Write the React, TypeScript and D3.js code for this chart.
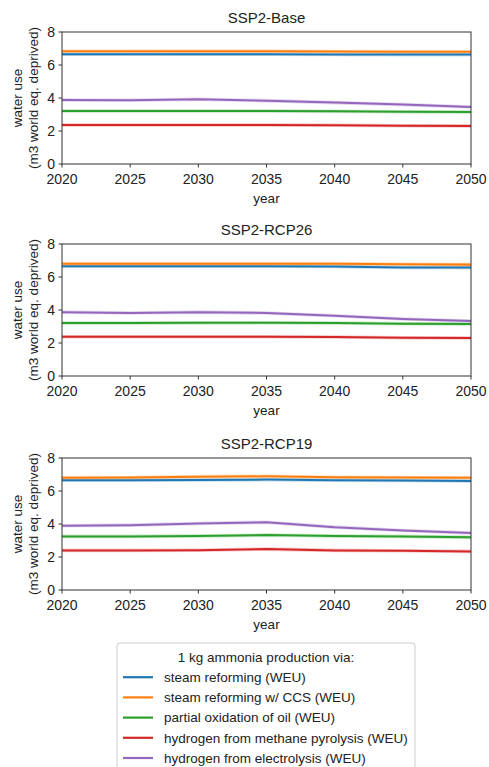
import React from "react";
import * as d3 from "d3";

const years = [2020, 2025, 2030, 2035, 2040, 2045, 2050];

const seriesNames = [
  "steam reforming (WEU)",
  "steam reforming w/ CCS (WEU)",
  "partial oxidation of oil (WEU)",
  "hydrogen from methane pyrolysis (WEU)",
  "hydrogen from electrolysis (WEU)",
];
const seriesColors = ["#1f77b4", "#ff7f0e", "#2ca02c", "#d62728", "#9467bd"];

const scenarioTitles = ["SSP2-Base", "SSP2-RCP26", "SSP2-RCP19"];

// water use per 1 kg ammonia, one row per series, one column per year
const baseValues = [
  [6.65, 6.65, 6.65, 6.65, 6.64, 6.63, 6.63],
  [6.83, 6.83, 6.84, 6.84, 6.82, 6.81, 6.8],
  [3.21, 3.21, 3.21, 3.21, 3.2, 3.17, 3.15],
  [2.36, 2.36, 2.36, 2.36, 2.35, 2.32, 2.31],
  [3.88, 3.86, 3.92, 3.84, 3.72, 3.6, 3.45],
];
const rcp26Values = [
  [6.65, 6.65, 6.65, 6.65, 6.64, 6.58, 6.57],
  [6.81, 6.81, 6.81, 6.81, 6.81, 6.77, 6.75],
  [3.21, 3.21, 3.22, 3.23, 3.21, 3.17, 3.15],
  [2.38, 2.38, 2.38, 2.38, 2.36, 2.32, 2.3],
  [3.87, 3.82, 3.87, 3.82, 3.65, 3.45, 3.33],
];
const rcp19Values = [
  [6.65, 6.65, 6.67, 6.69, 6.65, 6.64, 6.61],
  [6.81, 6.82, 6.87, 6.89, 6.83, 6.82, 6.81],
  [3.25, 3.25, 3.27, 3.33, 3.27, 3.25, 3.19],
  [2.4, 2.4, 2.41, 2.48, 2.4, 2.38, 2.34],
  [3.89, 3.93, 4.03, 4.11, 3.81, 3.61, 3.45],
];
const scenarioValues = [baseValues, rcp26Values, rcp19Values];

const yTicks = [0, 2, 4, 6, 8];
const xTicks = [2020, 2025, 2030, 2035, 2040, 2045, 2050];

const legendTitle = "1 kg ammonia production via:";

const FONT = "'Liberation Sans', Arial, sans-serif";
const TEXT = "#222";
const AXIS = "#333";

const plotLeft = 62;
const plotRight = 471;
const panelTops = [32, 244, 458];
const plotHeight = 132;

// series draw order: blue, orange, green, red, purple (later on top)
const drawOrder = [0, 1, 2, 3, 4];

function Panel({ index }: { index: number }) {
  const top = panelTops[index];
  const bottom = top + plotHeight;
  const x = d3.scaleLinear().domain([2020, 2050]).range([plotLeft, plotRight]);
  const y = d3.scaleLinear().domain([0, 8]).range([bottom, top]);
  const line = d3
    .line<number>()
    .x((_, i) => x(years[i]))
    .y((v) => y(v))
    .curve(d3.curveLinear);
  const values = scenarioValues[index];
  const midY = (top + bottom) / 2;
  return (
    <g>
      <text
        x={(plotLeft + plotRight) / 2}
        y={top - 9}
        textAnchor="middle"
        fontSize={15}
        fill={TEXT}
        fontFamily={FONT}
      >
        {scenarioTitles[index]}
      </text>
      <clipPath id={`clip-${index}`}>
        <rect x={plotLeft} y={top} width={plotRight - plotLeft} height={plotHeight} />
      </clipPath>
      <g clipPath={`url(#clip-${index})`}>
        {drawOrder.map((s) => (
          <g key={s}>
            <path
              d={line(values[s]) || ""}
              fill="none"
              stroke={seriesColors[s]}
              strokeOpacity={0.25}
              strokeWidth={3.6}
            />
            <path
              d={line(values[s]) || ""}
              fill="none"
              stroke={seriesColors[s]}
              strokeWidth={2}
            />
          </g>
        ))}
      </g>
      <rect
        x={plotLeft}
        y={top}
        width={plotRight - plotLeft}
        height={plotHeight}
        fill="none"
        stroke={AXIS}
        strokeWidth={1}
      />
      {yTicks.map((t) => (
        <g key={t}>
          <line x1={plotLeft - 3.5} x2={plotLeft} y1={y(t)} y2={y(t)} stroke={AXIS} />
          <text
            x={plotLeft - 7}
            y={y(t)}
            dy="0.35em"
            textAnchor="end"
            fontSize={14}
            fill={TEXT}
            fontFamily={FONT}
          >
            {t}
          </text>
        </g>
      ))}
      {xTicks.map((t) => (
        <g key={t}>
          <line x1={x(t)} x2={x(t)} y1={bottom} y2={bottom + 3.5} stroke={AXIS} />
          <text
            x={x(t)}
            y={bottom + 19.5}
            textAnchor="middle"
            fontSize={14}
            fill={TEXT}
            fontFamily={FONT}
          >
            {t}
          </text>
        </g>
      ))}
      <text
        x={(plotLeft + plotRight) / 2}
        y={bottom + 39}
        textAnchor="middle"
        fontSize={13.5}
        fill={TEXT}
        fontFamily={FONT}
      >
        year
      </text>
      <text
        transform={`translate(22, ${midY}) rotate(-90)`}
        textAnchor="middle"
        fontSize={13.5}
        fill={TEXT}
        fontFamily={FONT}
      >
        water use
      </text>
      <text
        transform={`translate(38, ${midY}) rotate(-90)`}
        textAnchor="middle"
        fontSize={13.5}
        fill={TEXT}
        fontFamily={FONT}
      >
        (m3 world eq. deprived)
      </text>
    </g>
  );
}

function Legend() {
  const left = 117;
  const right = 415;
  const top = 643;
  const rowY = d3.scaleLinear().domain([0, 5]).range([657, 758]);
  return (
    <g>
      <rect
        x={left}
        y={top}
        width={right - left}
        height={140}
        rx={3}
        fill="#fff"
        stroke="#cccccc"
        strokeWidth={1}
      />
      <text
        x={(left + right) / 2}
        y={rowY(0)}
        dy="0.35em"
        textAnchor="middle"
        fontSize={13.5}
        fill={TEXT}
        fontFamily={FONT}
      >
        {legendTitle}
      </text>
      {seriesNames.map((name, i) => (
        <g key={name}>
          <line
            x1={123}
            x2={153}
            y1={rowY(i + 1)}
            y2={rowY(i + 1)}
            stroke={seriesColors[i]}
            strokeWidth={2.2}
          />
          <text
            x={164}
            y={rowY(i + 1)}
            dy="0.35em"
            fontSize={13.5}
            fill={TEXT}
            fontFamily={FONT}
          >
            {name}
          </text>
        </g>
      ))}
    </g>
  );
}

export default function App() {
  return (
    <svg
      width={489}
      height={767}
      style={{ position: "absolute", left: 0, top: 0, background: "#fff" }}
    >
      <rect width={489} height={767} fill="#fff" />
      {[0, 1, 2].map((i) => (
        <Panel key={i} index={i} />
      ))}
      <Legend />
    </svg>
  );
}
